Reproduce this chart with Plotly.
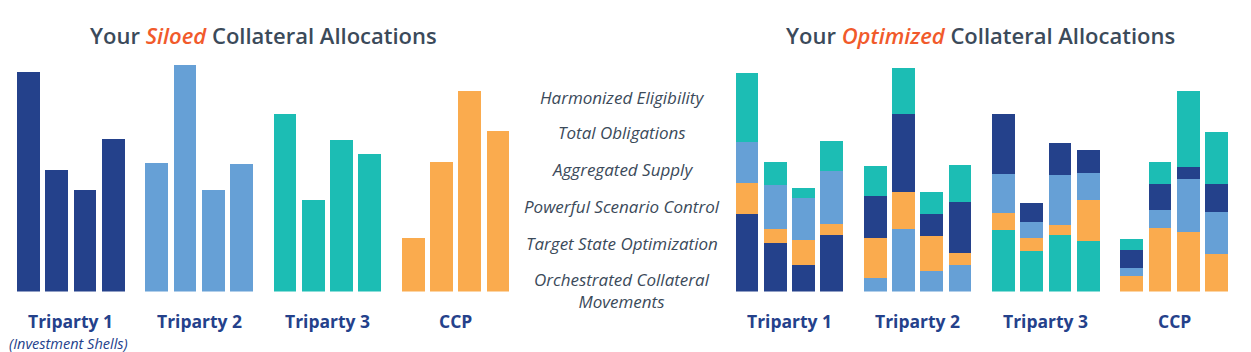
import plotly.graph_objects as go

# ---------------- data ----------------
categories = ["Triparty 1", "Triparty 2", "Triparty 3", "CCP"]
subtitle_t1 = "(Investment Shells)"

# Siloed allocations: 4 bars per category (single colour per category)
siloed = [
    [220, 122, 102, 153],   # Triparty 1
    [129, 227, 102, 128],   # Triparty 2
    [178, 92, 152, 138],    # Triparty 3
    [54, 130, 201, 161],    # CCP
]

# Optimized allocations: segment values per colour series
opt_navy = [[78, 49, 27, 57], [42, 78, 22, 51], [60, 19, 32, 23], [18, 26, 12, 28]]
opt_lblue = [[41, 44, 42, 53], [14, 63, 21, 27], [39, 16, 50, 27], [8, 18, 53, 42]]
opt_orange = [[31, 14, 25, 11], [40, 37, 35, 12], [17, 13, 10, 41], [16, 64, 60, 38]]
opt_teal = [[69, 23, 10, 30], [30, 46, 22, 37], [62, 41, 57, 51], [11, 22, 76, 52]]

# bottom-to-top stacking order of the optimized bars, per category
stack_order = [
    ["navy", "orange", "lblue", "teal"],
    ["lblue", "orange", "navy", "teal"],
    ["teal", "orange", "lblue", "navy"],
    ["orange", "lblue", "navy", "teal"],
]

features = [
    "Harmonized Eligibility",
    "Total Obligations",
    "Aggregated Supply",
    "Powerful Scenario Control",
    "Target State Optimization",
    "Orchestrated Collateral<br>Movements",
]

# ---------------- styling ----------------
COLORS = {"navy": "#24418b", "lblue": "#66a0d6", "teal": "#1cbdb4", "orange": "#faab4e"}
home_color = ["navy", "lblue", "teal", "orange"]
opt_series = {"navy": opt_navy, "lblue": opt_lblue, "orange": opt_orange, "teal": opt_teal}
TITLE_GRAY = "#3b4a5a"
ACCENT = "#f15a2b"
LABEL_NAVY = "#24418b"
FONT = "Open Sans"

W, H = 1251, 352
GROUP_PITCH = 4.54
BAR_W = 0.8


def positions(g):
    return [g * GROUP_PITCH + i for i in range(4)]


fig = go.Figure()

# Siloed chart (left)
for g, vals in enumerate(siloed):
    fig.add_trace(go.Bar(
        x=positions(g), y=vals, width=BAR_W,
        marker=dict(color=COLORS[home_color[g]], line=dict(width=0)),
        xaxis="x", yaxis="y", showlegend=False, hoverinfo="skip",
    ))

# Optimized chart (right)
for g in range(4):
    for key in stack_order[g]:
        fig.add_trace(go.Bar(
            x=positions(g), y=opt_series[key][g], width=BAR_W,
            marker=dict(color=COLORS[key], line=dict(width=0)),
            xaxis="x2", yaxis="y2", showlegend=False, hoverinfo="skip",
        ))

px_per_unit = 28.25
base_px = 291.5  # baseline from top
left_start, right_start, span = 0, 716, 530
y_dom = [(H - base_px) / H, 1]
y_rng = [0, base_px]

fig.update_layout(
    width=W, height=H,
    margin=dict(l=0, r=0, t=0, b=0),
    paper_bgcolor="white", plot_bgcolor="white",
    barmode="stack", bargap=0,
    xaxis=dict(domain=[left_start / W, (left_start + span) / W],
               range=[-(28.5 - left_start) / px_per_unit, -(28.5 - left_start) / px_per_unit + span / px_per_unit],
               visible=False, fixedrange=True),
    yaxis=dict(domain=y_dom, range=y_rng, visible=False, fixedrange=True),
    xaxis2=dict(domain=[right_start / W, (right_start + span) / W],
                range=[-(747 - right_start) / px_per_unit, -(747 - right_start) / px_per_unit + span / px_per_unit],
                visible=False, fixedrange=True, anchor="y2"),
    yaxis2=dict(domain=y_dom, range=y_rng, visible=False, fixedrange=True, anchor="x2"),
    font=dict(family=FONT),
)

ann = []
# titles
ann.append(dict(
    text=f"Your <i><span style='color:{ACCENT}'>Siloed</span></i> Collateral Allocations",
    xref="paper", yref="paper", x=263 / W, y=1 - 35 / H, xanchor="center", yanchor="middle",
    showarrow=False, font=dict(family=FONT, size=22, color=TITLE_GRAY, weight=600)))
ann.append(dict(
    text=f"Your <i><span style='color:{ACCENT}'>Optimized</span></i> Collateral Allocations",
    xref="paper", yref="paper", x=980 / W, y=1 - 35 / H, xanchor="center", yanchor="middle",
    showarrow=False, font=dict(family=FONT, size=22, color=TITLE_GRAY, weight=600)))

# category labels
for xr in ("x", "x2"):
    for g, cat in enumerate(categories):
        cx = g * GROUP_PITCH + 1.5
        ann.append(dict(text=cat, xref=xr, yref="paper", x=cx, y=1 - 321 / H,
                        xanchor="center", yanchor="middle", showarrow=False, borderpad=0,
                        font=dict(family=FONT, size=17.5, color=LABEL_NAVY, weight=700)))
ann.append(dict(text=f"<i>{subtitle_t1}</i>", xref="x", yref="paper", x=1.4, y=1 - 343 / H,
                xanchor="center", yanchor="middle", showarrow=False, borderpad=0,
                font=dict(family=FONT, size=14.5, color=LABEL_NAVY)))

# feature labels in the middle
feat_y = [97, 132, 169, 206, 243.5, 290]
for txt, py in zip(features, feat_y):
    ann.append(dict(text=f"<i>{txt}</i>", xref="paper", yref="paper", x=622 / W, y=1 - py / H,
                    xanchor="center", yanchor="middle", showarrow=False,
                    font=dict(family=FONT, size=17, color=TITLE_GRAY, weight=500)))

fig.update_layout(annotations=ann)
fig.write_html("out.html")
